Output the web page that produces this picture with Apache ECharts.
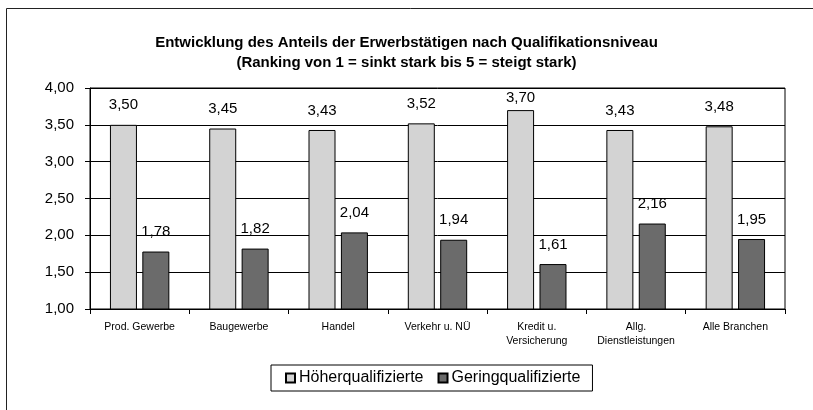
<!DOCTYPE html>
<html><head><meta charset="utf-8">
<script src="https://cdn.jsdelivr.net/npm/echarts@6/dist/echarts.min.js"></script>
<style>html,body{margin:0;padding:0;background:#fff}#c{width:813px;height:410px}</style>
</head><body><div id="c"></div>
<script>
const categories = ['Prod. Gewerbe','Baugewerbe','Handel','Verkehr u. NÜ','Kredit u.\nVersicherung','Allg.\nDienstleistungen','Alle Branchen'];
const hoeher = [3.50, 3.45, 3.43, 3.52, 3.70, 3.43, 3.48];
const gering = [1.78, 1.82, 2.04, 1.94, 1.61, 2.16, 1.95];
const seriesNames = ['Höherqualifizierte','Geringqualifizierte'];
const titleLines = ['Entwicklung des Anteils der Erwerbstätigen nach Qualifikationsniveau','(Ranking von 1 = sinkt stark bis 5 = steigt stark)'];

const fmt = v => v.toFixed(2).replace('.', ',');
const font = 'Liberation Sans, Arial, sans-serif';
const chart = echarts.init(document.getElementById('c'), null, {renderer:'canvas'});
const lbl = {show:true, position:'top', distance:12, color:'#000', fontSize:15, fontFamily:font, formatter:p=>fmt(p.value)};
// labels that would collide with the plot's top edge sit closer to the bar
const withFit = arr => arr.map(v => v > 3.6 ? {value:v, label:{distance:5}} : v);
chart.setOption({
  animation:false,
  backgroundColor:'#fff',
  graphic:[{type:'rect', shape:{x:6.5,y:8.5,width:900,height:500}, style:{fill:'none', stroke:'#222', lineWidth:1}, silent:true}],
  title:{text:titleLines.join('\n'), left:'center', top:28, textStyle:{fontFamily:font, fontSize:15, fontWeight:'bold', color:'#000', lineHeight:20}},
  legend:{data:seriesNames, left:271, top:365, orient:'horizontal', borderColor:'#000', borderWidth:1, padding:[5,12,5,14], itemGap:14, itemWidth:9, itemHeight:9, icon:'rect', textStyle:{fontFamily:font, fontSize:16, color:'#000', padding:[0,0,0,-1]}},
  grid:{left:90, right:28, top:88, bottom:101, show:true, borderColor:'#000', borderWidth:1, backgroundColor:'#fff'},
  xAxis:{type:'category', data:categories, axisLine:{lineStyle:{color:'#000', width:1}}, axisTick:{show:true, length:5, lineStyle:{color:'#000'}},
    axisLabel:{fontFamily:font, fontSize:10.5, color:'#000', margin:11, interval:0, lineHeight:14}},
  yAxis:{type:'value', min:1, max:4, interval:0.5, axisLine:{show:true, lineStyle:{color:'#000', width:1}}, axisTick:{show:true, length:5, lineStyle:{color:'#000'}},
    splitLine:{lineStyle:{color:'#000', width:1}}, axisLabel:{fontFamily:font, fontSize:15, color:'#000', margin:16, formatter:v=>fmt(v)}},
  series:[
    {name:seriesNames[0], type:'bar', data:withFit(hoeher), barWidth:27, barGap:'20%', itemStyle:{color:'#d3d3d3', borderColor:'#000', borderWidth:1}, label:lbl},
    {name:seriesNames[1], type:'bar', data:withFit(gering), barWidth:27, itemStyle:{color:'#6b6b6b', borderColor:'#000', borderWidth:1}, label:lbl}
  ]
});
</script></body></html>
